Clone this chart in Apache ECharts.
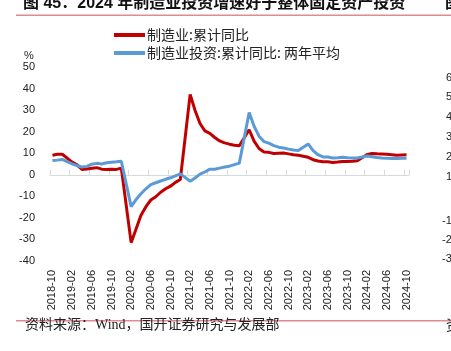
<!DOCTYPE html>
<html>
<head>
<meta charset="utf-8">
<script src="https://cdn.jsdelivr.net/npm/echarts@6/dist/echarts.min.js"></script>
<style>
  html, body { margin: 0; padding: 0; background: #fff; }
  #chart { width: 451px; height: 351px; }
</style>
</head>
<body>
<div id="chart"></div>
<script>
// 月份 2018-10 ~ 2024-10（1月无数据）
const months = [
    "2018-10", "2018-11", "2018-12",
    "2019-01", "2019-02", "2019-03", "2019-04", "2019-05", "2019-06", "2019-07", "2019-08", "2019-09", "2019-10", "2019-11", "2019-12",
    "2020-01", "2020-02", "2020-03", "2020-04", "2020-05", "2020-06", "2020-07", "2020-08", "2020-09", "2020-10", "2020-11", "2020-12",
    "2021-01", "2021-02", "2021-03", "2021-04", "2021-05", "2021-06", "2021-07", "2021-08", "2021-09", "2021-10", "2021-11", "2021-12",
    "2022-01", "2022-02", "2022-03", "2022-04", "2022-05", "2022-06", "2022-07", "2022-08", "2022-09", "2022-10", "2022-11", "2022-12",
    "2023-01", "2023-02", "2023-03", "2023-04", "2023-05", "2023-06", "2023-07", "2023-08", "2023-09", "2023-10", "2023-11", "2023-12",
    "2024-01", "2024-02", "2024-03", "2024-04", "2024-05", "2024-06", "2024-07", "2024-08", "2024-09", "2024-10"
];

// 制造业:累计同比
const mfgYoy = [
    9.1, 9.5, 9.5,
    null, 5.9, 4.6, 2.5, 2.7, 3.0, 3.3, 2.6, 2.5, 2.6, 2.5, 3.1,
    null, -31.5, -25.2, -18.8, -14.8, -11.7, -10.2, -8.1, -6.5, -5.3, -3.5, -2.2,
    null, 37.3, 29.8, 23.8, 20.4, 19.2, 17.3, 15.7, 14.8, 14.2, 13.7, 13.5,
    null, 20.9, 15.6, 12.2, 10.6, 10.4, 9.9, 10.0, 10.1, 9.7, 9.3, 9.1,
    null, 8.1, 7.0, 6.4, 6.0, 6.0, 5.7, 5.9, 6.2, 6.2, 6.3, 6.5,
    null, 9.4, 9.9, 9.7, 9.6, 9.5, 9.3, 9.1, 9.2, 9.3
];

// 制造业投资:累计同比:两年平均
const mfgTwoYear = [
    6.6, 6.8, 7.1,
    null, 5.1, 4.2, 3.6, 3.9, 4.9, 5.3, 5.0, 5.6, 5.8, 6.0, 6.3,
    null, -14.8, -11.5, -8.8, -6.5, -4.6, -3.7, -2.9, -2.1, -1.4, -0.5, 0.4,
    null, -3.0, -1.5, 0.3, 1.3, 2.6, 2.6, 3.1, 3.6, 4.0, 4.7, 5.4,
    null, 28.9, 22.5, 17.9, 15.4, 14.7, 13.5, 12.8, 12.4, 11.9, 11.5, 11.3,
    null, 14.3, 11.2, 9.3, 8.3, 8.2, 7.8, 7.9, 8.1, 7.9, 7.8, 7.8,
    null, 8.7, 8.4, 8.0, 7.8, 7.7, 7.5, 7.5, 7.7, 7.7
];

// 右侧相邻图表被截断的刻度
const sideTicks = ["6", "5", "4", "3", "2", "1", "-1", "-2", "-3"];
const sideTickY = [78, 97, 117, 137, 157, 177, 221, 240, 259];

const CJK = "'Liberation Sans', 'Noto Sans CJK SC', sans-serif";
const lineColor = "#E08A93";

const graphics = [
    { type: "text", left: 23, top: -4, style: { text: "图 45：2024 年制造业投资增速好于整体固定资产投资", font: "bold 16px " + CJK, fill: "#111" } },
    { type: "text", left: 445, top: -4, style: { text: "图", font: "bold 16px " + CJK, fill: "#111" } },
    { type: "rect", shape: { x: 16, y: 14.5, width: 435, height: 1.5 }, style: { fill: lineColor } },
    { type: "rect", shape: { x: 16, y: 320, width: 435, height: 1.5 }, style: { fill: lineColor } },
    { type: "text", left: 25, top: 318, style: { text: "资料来源：Wind，国开证券研究与发展部", font: "14px 'Liberation Serif', 'Noto Sans CJK SC', serif", fill: "#222" } },
    { type: "text", left: 446, top: 318, style: { text: "资", font: "14px 'Noto Sans CJK SC'", fill: "#222" } },
    { type: "text", left: 24, top: 50, style: { text: "%", font: "11px 'Liberation Sans'", fill: "#222" } }
];
sideTicks.forEach(function (t, i) {
    graphics.push({
        type: "text",
        x: t.length > 1 ? 442 : 446,
        y: sideTickY[i],
        style: { text: t, font: "11px 'Liberation Sans'", fill: "#222", textVerticalAlign: "middle" }
    });
});

const option = {
    animation: false,
    backgroundColor: "#fff",
    grid: { left: 50, right: 42, top: 67, height: 194 },
    legend: {
        data: ["制造业:累计同比", "制造业投资:累计同比: 两年平均"],
        orient: "vertical",
        left: 109,
        top: 23,
        itemGap: 4,
        itemWidth: 31,
        itemHeight: 4,
        icon: "rect",
        textStyle: { fontFamily: "'Noto Sans CJK SC'", fontSize: 14, color: "#222", padding: [0, 0, 0, -3] },
    },
    xAxis: [
        {
            type: "category",
            data: months,
            boundaryGap: true,
            axisLine: { show: false, onZero: false },
            axisTick: { show: false },
            axisLabel: {
                interval: 3,
                rotate: 90,
                margin: 9,
                fontSize: 11,
                fontFamily: "'Liberation Sans'",
                color: "#222",
            },
        },
        {
            type: "category",
            data: months,
            boundaryGap: true,
            axisLine: { show: true, onZero: true, lineStyle: { color: "#D9D9D9", width: 1 } },
            axisTick: { show: true, interval: 3, length: 5, lineStyle: { color: "#D9D9D9" } },
            axisLabel: { show: false },
        },
    ],
    yAxis: {
        type: "value",
        min: -40,
        max: 50,
        interval: 10,
        axisLine: { show: false },
        axisTick: { show: false },
        splitLine: { show: false },
        axisLabel: { fontSize: 11, fontFamily: "'Liberation Sans'", color: "#222", margin: 15 },
    },
    series: [
        {
            name: "制造业:累计同比",
            type: "line",
            data: mfgYoy,
            connectNulls: true,
            showSymbol: false,
            symbol: "none",
            lineStyle: { color: "#C00000", width: 3 },
            itemStyle: { color: "#C00000" },
        },
        {
            name: "制造业投资:累计同比: 两年平均",
            type: "line",
            data: mfgTwoYear,
            connectNulls: true,
            showSymbol: false,
            symbol: "none",
            lineStyle: { color: "#5B9BD5", width: 3 },
            itemStyle: { color: "#5B9BD5" },
        },
    ],
    graphic: graphics,
};

const myChart = echarts.init(document.getElementById("chart"));
myChart.setOption(option);
</script>
</body>
</html>
